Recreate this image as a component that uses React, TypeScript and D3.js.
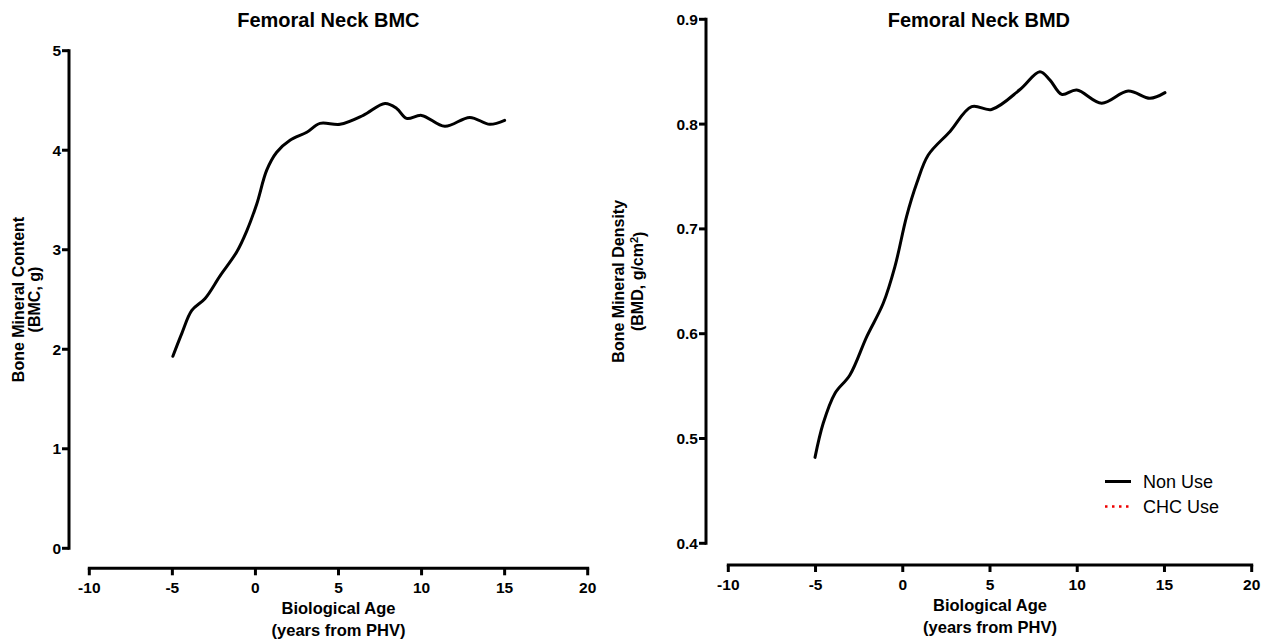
import React from "react";
import * as d3 from "d3";

const bmcAge = [-4.97, -4.43, -3.83, -3.03, -2.12, -1.12, -0.52, 0.08, 0.68, 1.28, 2.08, 3.09, 3.89, 5.09, 6.49, 7.8, 8.5, 9.1, 10.0, 11.4, 12.9, 14.1, 15.0];
const bmcValue = [1.93, 2.16, 2.39, 2.51, 2.74, 2.98, 3.19, 3.46, 3.8, 3.98, 4.1, 4.18, 4.27, 4.26, 4.35, 4.47, 4.42, 4.32, 4.35, 4.24, 4.33, 4.26, 4.3];

const bmdAge = [-5.03, -4.56, -3.89, -3.03, -2.07, -1.12, -0.45, 0.22, 0.8, 1.46, 2.71, 3.95, 5.09, 6.72, 7.86, 8.44, 9.11, 9.97, 11.4, 12.92, 14.17, 15.03];
const bmdValue = [0.482, 0.5145, 0.543, 0.5606, 0.597, 0.629, 0.664, 0.712, 0.7435, 0.7705, 0.793, 0.8166, 0.814, 0.833, 0.85, 0.842, 0.8284, 0.8325, 0.82, 0.8316, 0.8246, 0.83];

const xTicks = [-10, -5, 0, 5, 10, 15, 20];
const bmcTicks = [0, 1, 2, 3, 4, 5];
const bmdTicks = [0.4, 0.5, 0.6, 0.7, 0.8, 0.9];

const legendItems = ["Non Use", "CHC Use"];

const FONT = "'Liberation Sans', Arial, Helvetica, sans-serif";

type PanelProps = {
  title: string;
  xs: number[];
  ys: number[];
  yTicks: number[];
  yFmt: (v: number) => string;
  yAxisX: number;
  yTop: number;
  yBottom: number;
  xAxisY: number;
  xLeft: number;
  xRight: number;
  yLabel1: string;
  yLabel2: React.ReactNode;
  yLab1X: number;
  yLab2X: number;
};

function Panel(p: PanelProps) {
  const x = d3.scaleLinear().domain([-10, 20]).range([p.xLeft, p.xRight]);
  const y = d3
    .scaleLinear()
    .domain([p.yTicks[0], p.yTicks[p.yTicks.length - 1]])
    .range([p.yBottom, p.yTop]);
  const pts = p.xs.map((a, i) => [a, p.ys[i]] as [number, number]);
  const line = d3
    .line<[number, number]>()
    .x((d) => x(d[0]))
    .y((d) => y(d[1]))
    .curve(d3.curveCatmullRom.alpha(0.5));
  const cx = (p.yAxisX + p.xRight) / 2;
  const xc = (p.xLeft + p.xRight) / 2;
  const yc = (p.yTop + p.yBottom) / 2;
  return (
    <g fontFamily={FONT}>
      <text x={cx} y={20} dy="0.36em" textAnchor="middle" fontWeight="bold" fontSize={20}>
        {p.title}
      </text>
      <line x1={p.yAxisX} x2={p.yAxisX} y1={p.yTop - 1.5} y2={p.yBottom + 1.5} stroke="#000" strokeWidth={3} />
      {p.yTicks.map((t) => (
        <g key={t}>
          <line x1={p.yAxisX - 7} x2={p.yAxisX} y1={y(t)} y2={y(t)} stroke="#000" strokeWidth={3} />
          <text x={p.yAxisX - 8} y={y(t)} dy="0.36em" textAnchor="end" fontWeight="bold" fontSize={15.5}>
            {p.yFmt(t)}
          </text>
        </g>
      ))}
      <line x1={p.xLeft - 1.5} x2={p.xRight + 1.5} y1={p.xAxisY} y2={p.xAxisY} stroke="#000" strokeWidth={3} />
      {xTicks.map((t) => (
        <g key={t}>
          <line x1={x(t)} x2={x(t)} y1={p.xAxisY} y2={p.xAxisY + 7} stroke="#000" strokeWidth={3} />
          <text x={x(t)} y={p.xAxisY + 19} dy="0.36em" textAnchor="middle" fontWeight="bold" fontSize={15.5}>
            {t}
          </text>
        </g>
      ))}
      <text x={xc} y={p.xAxisY + 40} dy="0.36em" textAnchor="middle" fontWeight="bold" fontSize={16.5}>
        Biological Age
      </text>
      <text x={xc} y={p.xAxisY + 62} dy="0.36em" textAnchor="middle" fontWeight="bold" fontSize={16.5}>
        (years from PHV)
      </text>
      <text transform={`translate(${p.yLab1X},${yc}) rotate(-90)`} dy="0.36em" textAnchor="middle" fontWeight="bold" fontSize={16}>
        {p.yLabel1}
      </text>
      <text transform={`translate(${p.yLab2X},${yc}) rotate(-90)`} dy="0.36em" textAnchor="middle" fontWeight="bold" fontSize={16}>
        {p.yLabel2}
      </text>
      <path d={line(pts) || ""} fill="none" stroke="#000" strokeWidth={3} strokeLinejoin="round" strokeLinecap="round" />
    </g>
  );
}

export default function App() {
  return (
    <svg
      width={1269}
      height={641}
      style={{ position: "absolute", left: 0, top: 0, background: "#fff" }}
    >
      <rect width={1269} height={641} fill="#fff" />
      <Panel
        title="Femoral Neck BMC"
        xs={bmcAge}
        ys={bmcValue}
        yTicks={bmcTicks}
        yFmt={(v) => String(v)}
        yAxisX={69}
        yTop={50.7}
        yBottom={548.3}
        xAxisY={568.3}
        xLeft={89.3}
        xRight={587.7}
        yLabel1="Bone Mineral Content"
        yLabel2="(BMC, g)"
        yLab1X={18}
        yLab2X={34}
      />
      <Panel
        title="Femoral Neck BMD"
        xs={bmdAge}
        ys={bmdValue}
        yTicks={bmdTicks}
        yFmt={(v) => v.toFixed(1)}
        yAxisX={706}
        yTop={19.3}
        yBottom={543.3}
        xAxisY={565}
        xLeft={728.3}
        xRight={1251.7}
        yLabel1="Bone Mineral Density"
        yLabel2={
          <>
            (BMD, g/cm<tspan dy="-0.45em" fontSize={11}>2</tspan>
            <tspan dy="0.45em">)</tspan>
          </>
        }
        yLab1X={618}
        yLab2X={637}
      />
      <g fontFamily={FONT}>
        {legendItems.map((name, i) => (
          <g key={name}>
            <line
              x1={1105}
              x2={i === 0 ? 1131 : 1129}
              y1={481.5 + i * 25}
              y2={481.5 + i * 25}
              stroke={i === 0 ? "#000" : "#e00"}
              strokeWidth={i === 0 ? 3 : 2.5}
              strokeDasharray={i === 0 ? undefined : "2.5,4.5"}
            />
            <text x={1143} y={481.5 + i * 25} dy="0.36em" fontSize={18}>
              {name}
            </text>
          </g>
        ))}
      </g>
    </svg>
  );
}
